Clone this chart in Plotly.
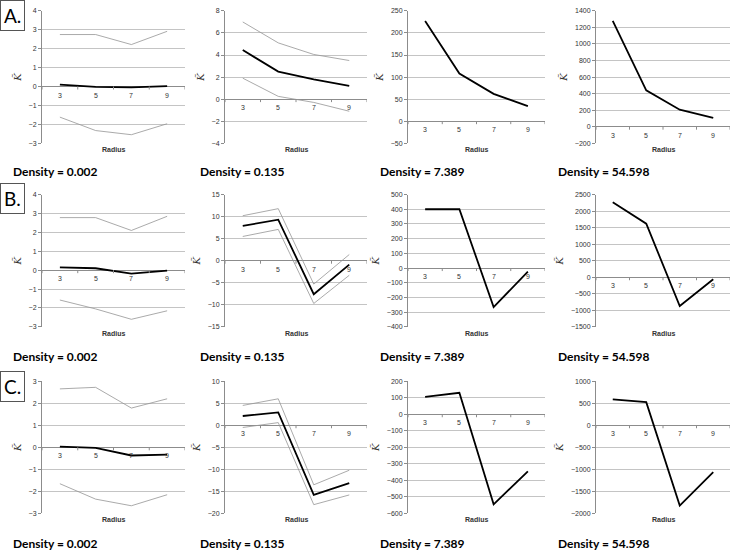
import plotly.graph_objects as go

W, H = 733, 553

radius = [3, 5, 7, 9]
densities = ["0.002", "0.135", "7.389", "54.598"]
row_labels = ["A.", "B.", "C."]

# Row A
a1_mid = [0.1, -0.02, -0.05, 0.02]
a1_up = [2.75, 2.75, 2.22, 2.92]
a1_lo = [-1.62, -2.33, -2.55, -1.97]
a2_mid = [4.45, 2.5, 1.8, 1.2]
a2_up = [7.0, 5.1, 4.05, 3.5]
a2_lo = [1.9, 0.25, -0.3, -1.1]
a3_mid = [227, 108, 62, 34]
a4_mid = [1280, 440, 205, 105]
# Row B
b1_mid = [0.15, 0.1, -0.18, -0.02]
b1_up = [2.78, 2.78, 2.1, 2.85]
b1_lo = [-1.58, -2.05, -2.6, -2.15]
b2_mid = [7.9, 9.3, -7.6, -0.9]
b2_up = [10.2, 11.8, -5.3, 1.4]
b2_lo = [5.5, 7.1, -9.7, -3.3]
b3_mid = [400, 400, -265, -25]
b4_mid = [2270, 1620, -870, -60]
# Row C
c1_mid = [0.03, -0.03, -0.37, -0.33]
c1_up = [2.65, 2.72, 1.78, 2.2]
c1_lo = [-1.65, -2.35, -2.65, -2.15]
c2_mid = [2.1, 2.9, -15.8, -13.1]
c2_up = [4.5, 6.0, -13.5, -10.2]
c2_lo = [-0.5, 0.6, -18.0, -15.8]
c3_mid = [105, 130, -545, -345]
c4_mid = [585, 525, -1820, -1060]

y_ranges = [
    [(-3, 4, 1), (-4, 8, 2), (-50, 250, 50), (-200, 1400, 200)],
    [(-3, 4, 1), (-15, 15, 5), (-400, 500, 100), (-1500, 2500, 500)],
    [(-3, 3, 1), (-20, 10, 5), (-600, 200, 100), (-2000, 1000, 500)],
]

panels = [
    [(a1_mid, a1_up, a1_lo), (a2_mid, a2_up, a2_lo), (a3_mid, None, None), (a4_mid, None, None)],
    [(b1_mid, b1_up, b1_lo), (b2_mid, b2_up, b2_lo), (b3_mid, None, None), (b4_mid, None, None)],
    [(c1_mid, c1_up, c1_lo), (c2_mid, c2_up, c2_lo), (c3_mid, None, None), (c4_mid, None, None)],
]

col_px = [(42, 185), (225, 367), (408, 545), (596, 730)]
row_px = [(7, 141), (193, 327), (382, 516)]
density_y = [170, 357, 546]
density_x = [11, 198, 378, 556]
box_y = [12, 197, 387]

fig = go.Figure()
annotations = []
shapes = []
layout = {}

grid_c = "#c4c4c4"
axis_c = "#8c8c8c"
tick_font = dict(family="Liberation Sans, Arial", size=7, color="#333333")

idx = 0
for r in range(3):
    for c in range(4):
        idx += 1
        xa = "x" if idx == 1 else f"x{idx}"
        ya = "y" if idx == 1 else f"y{idx}"
        xkey = "xaxis" if idx == 1 else f"xaxis{idx}"
        ykey = "yaxis" if idx == 1 else f"yaxis{idx}"
        x0, x1 = col_px[c]
        t, b = row_px[r]
        lo, hi, dt = y_ranges[r][c]
        layout[xkey] = dict(domain=[x0 / W, x1 / W], range=[2, 10], anchor=ya,
                            showgrid=False, zeroline=False, showticklabels=False,
                            showline=False, fixedrange=True)
        layout[ykey] = dict(domain=[1 - b / H, 1 - t / H], range=[lo, hi], anchor=xa,
                            tick0=lo, dtick=dt, showgrid=True, gridcolor=grid_c, gridwidth=1,
                            zeroline=True, zerolinecolor=axis_c, zerolinewidth=1,
                            showline=True, linecolor=axis_c, linewidth=1,
                            ticks="outside", ticklen=3, tickcolor=axis_c,
                            tickfont=tick_font, fixedrange=True,
                            title=dict(text="<i>K̃</i>", font=dict(family="DejaVu Serif", size=10, color="#333"),
                                       standoff=5))
        mid, up, low = panels[r][c]
        for ser in (up, low):
            if ser is not None:
                fig.add_trace(go.Scatter(x=radius, y=ser, mode="lines", xaxis=xa, yaxis=ya,
                                         line=dict(color="#949494", width=0.8), showlegend=False,
                                         hoverinfo="skip"))
        fig.add_trace(go.Scatter(x=radius, y=mid, mode="lines", xaxis=xa, yaxis=ya,
                                 line=dict(color="black", width=1.8), showlegend=False))
        for rv in radius:
            annotations.append(dict(x=rv, y=0, xref=xa, yref=ya, text=str(rv), showarrow=False,
                                    yanchor="top", yshift=-3, font=tick_font))
        for tv in [2, 4, 6, 8, 10]:
            shapes.append(dict(type="line", xref=xa, yref=ya, ysizemode="pixel", yanchor=0,
                               x0=tv, x1=tv, y0=0, y1=-3, line=dict(color=axis_c, width=1)))
        annotations.append(dict(x=0.5, y=0, xref=f"{xa} domain", yref=f"{ya} domain",
                                text="<b>Radius</b>", showarrow=False, yanchor="top", yshift=-1,
                                font=dict(family="Liberation Sans, Arial", size=7, color="#333333")))
        annotations.append(dict(x=density_x[c] / W, y=1 - density_y[r] / H, xref="paper", yref="paper",
                                xanchor="left", yanchor="middle", showarrow=False,
                                text=f"<b>Density = {densities[c]}</b>",
                                font=dict(family="Lato, Open Sans", size=12, color="black")))
    annotations.append(dict(x=0, y=1 - box_y[r] / H, xref="paper", yref="paper",
                            xanchor="left", yanchor="middle", showarrow=False,
                            text=row_labels[r], bordercolor="#555555", borderwidth=1, borderpad=3,
                            bgcolor="white",
                            font=dict(family="Lato, Open Sans", size=19, color="black")))

fig.update_layout(width=W, height=H, margin=dict(l=0, r=0, t=0, b=0),
                  paper_bgcolor="white", plot_bgcolor="white",
                  annotations=annotations, shapes=shapes, **layout)
fig.write_html("out.html", config={"displayModeBar": False},
               post_script="document.body.style.margin='0';document.body.style.overflow='hidden';")
